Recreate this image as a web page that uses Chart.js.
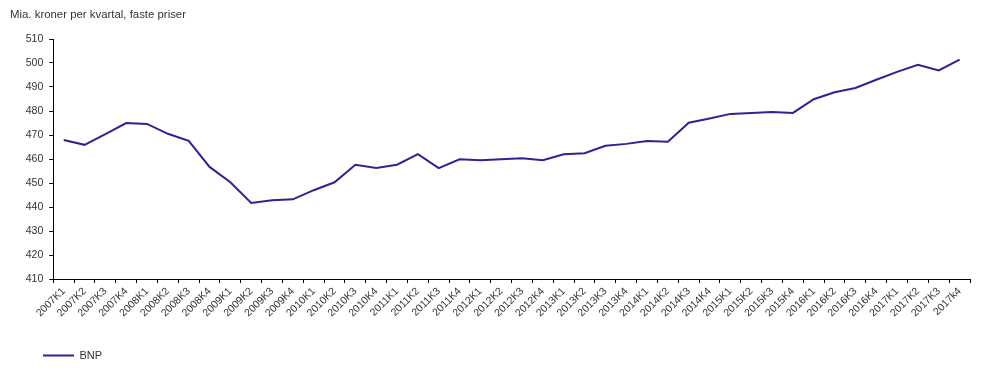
<!DOCTYPE html>
<html>
<head>
<meta charset="utf-8">
<script src="https://cdn.jsdelivr.net/npm/chart.js@4/dist/chart.umd.min.js"></script>
<style>
  html, body { margin: 0; padding: 0; background: #fff; }
  #wrap { position: relative; width: 991px; height: 371px; }
  #title { position: absolute; left: 10px; top: 8px; font: 11.4px "Liberation Sans", Arial, sans-serif; color: #333; }
</style>
</head>
<body>
<div id="wrap">
  <div id="title">Mia. kroner per kvartal, faste priser</div>
  <canvas id="chart" width="991" height="371"></canvas>
</div>
<script>
// Data
const quarters = [
  "2007K1", "2007K2", "2007K3", "2007K4",
  "2008K1", "2008K2", "2008K3", "2008K4",
  "2009K1", "2009K2", "2009K3", "2009K4",
  "2010K1", "2010K2", "2010K3", "2010K4",
  "2011K1", "2011K2", "2011K3", "2011K4",
  "2012K1", "2012K2", "2012K3", "2012K4",
  "2013K1", "2013K2", "2013K3", "2013K4",
  "2014K1", "2014K2", "2014K3", "2014K4",
  "2015K1", "2015K2", "2015K3", "2015K4",
  "2016K1", "2016K2", "2016K3", "2016K4",
  "2017K1", "2017K2", "2017K3", "2017k4"
];
const bnp = [
  467.9, 465.9, 470.4, 475.0,
  474.6, 470.5, 467.6, 456.7,
  450.3, 441.7, 442.8, 443.2,
  447.0, 450.3, 457.6, 456.3,
  457.6, 462.0, 456.2, 459.9,
  459.5, 459.9, 460.3, 459.5,
  462.0, 462.4, 465.5, 466.3,
  467.5, 467.2, 475.1, 476.9,
  478.8, 479.2, 479.6, 479.2,
  484.9, 487.8, 489.6, 493.0,
  496.3, 499.3, 496.9, 501.4
];
const yMin = 410;
const yMax = 510;
const yStep = 10;

const font = { family: '"Liberation Sans", Arial, sans-serif', size: 10.5 };

// y labels sit in the left padding; widen the label clip box after layout
const yLabelRoom = {
  id: "yLabelRoom",
  afterLayout(chart) {
    chart.scales.y.left = 0;
  }
};

new Chart(document.getElementById("chart"), {
  type: "line",
  data: {
    labels: quarters,
    datasets: [{
      label: "BNP",
      data: bnp,
      borderColor: "#2b2496",
      backgroundColor: "#2b2496",
      borderWidth: 2,
      pointRadius: 0,
      tension: 0
    }]
  },
  plugins: [yLabelRoom],
  options: {
    responsive: false,
    animation: false,
    layout: { padding: { left: 33, right: 21, top: 39, bottom: 0 } },
    plugins: {
      tooltip: { enabled: false },
      legend: {
        position: "bottom",
        align: "start",
        labels: {
          usePointStyle: true,
          pointStyle: "line",
          pointStyleWidth: 31,
          boxHeight: 11,
          padding: 10,
          color: "#333",
          font: { family: font.family, size: 11 }
        }
      }
    },
    scales: {
      x: {
        offset: true,
        afterFit: s => { s.height = 61; },
        border: { display: true, color: "#000", width: 1 },
        grid: { display: true, offset: true, drawOnChartArea: false, drawTicks: true, tickLength: 4, color: "#000" },
        ticks: { autoSkip: false, minRotation: 45, maxRotation: 45, padding: 2, color: "#333", font: font }
      },
      y: {
        min: yMin,
        max: yMax,
        afterFit: s => { s.width = 20.3; },
        border: { display: true, color: "#000", width: 1 },
        grid: { display: true, drawOnChartArea: false, drawTicks: true, tickLength: 4, color: "#000" },
        ticks: { stepSize: yStep, padding: 6, color: "#333", font: font }
      }
    }
  }
});
</script>
</body>
</html>
